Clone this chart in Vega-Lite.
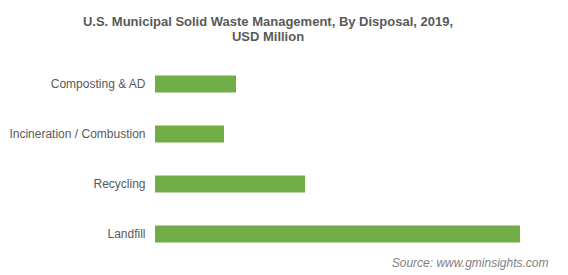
{
  "$schema": "https://vega.github.io/schema/vega-lite/v6.json",
  "autosize": {"type": "none"},
  "width": 400,
  "height": 200,
  "padding": {"left": 155, "top": 59, "right": 13, "bottom": 16},
  "background": "white",
  "title": {
    "text": ["U.S. Municipal Solid Waste Management, By Disposal, 2019,", "USD Million"],
    "anchor": "middle",
    "dx": -87,
    "offset": 15,
    "font": "Liberation Sans",
    "fontSize": 13,
    "fontWeight": "bold",
    "color": "#595959",
    "lineHeight": 15.5
  },
  "data": {
    "values": [
      {"disposal": "Composting & AD", "value": 81},
      {"disposal": "Incineration / Combustion", "value": 69},
      {"disposal": "Recycling", "value": 150},
      {"disposal": "Landfill", "value": 365}
    ]
  },
  "mark": {"type": "bar", "color": "#70AD47"},
  "encoding": {
    "y": {
      "field": "disposal",
      "type": "nominal",
      "sort": null,
      "scale": {"paddingInner": 0.66, "paddingOuter": 0.33},
      "axis": {
        "title": null,
        "domain": false,
        "ticks": false,
        "labelPadding": 10,
        "labelFont": "Liberation Sans",
        "labelFontSize": 12,
        "labelColor": "#595959"
      }
    },
    "x": {
      "field": "value",
      "type": "quantitative",
      "scale": {"domain": [0, 400]},
      "axis": {
        "title": "Source: www.gminsights.com",
        "labels": false,
        "ticks": false,
        "domain": false,
        "grid": false,
        "titleFont": "Liberation Sans",
        "titleFontSize": 12,
        "titleFontStyle": "italic",
        "titleFontWeight": "normal",
        "titleColor": "#7f7f7f",
        "titleAnchor": "end",
        "titleAlign": "right",
        "titleX": 393,
        "titleY": 3,
        "titleBaseline": "middle"
      }
    }
  },
  "config": {"view": {"stroke": null}}
}
